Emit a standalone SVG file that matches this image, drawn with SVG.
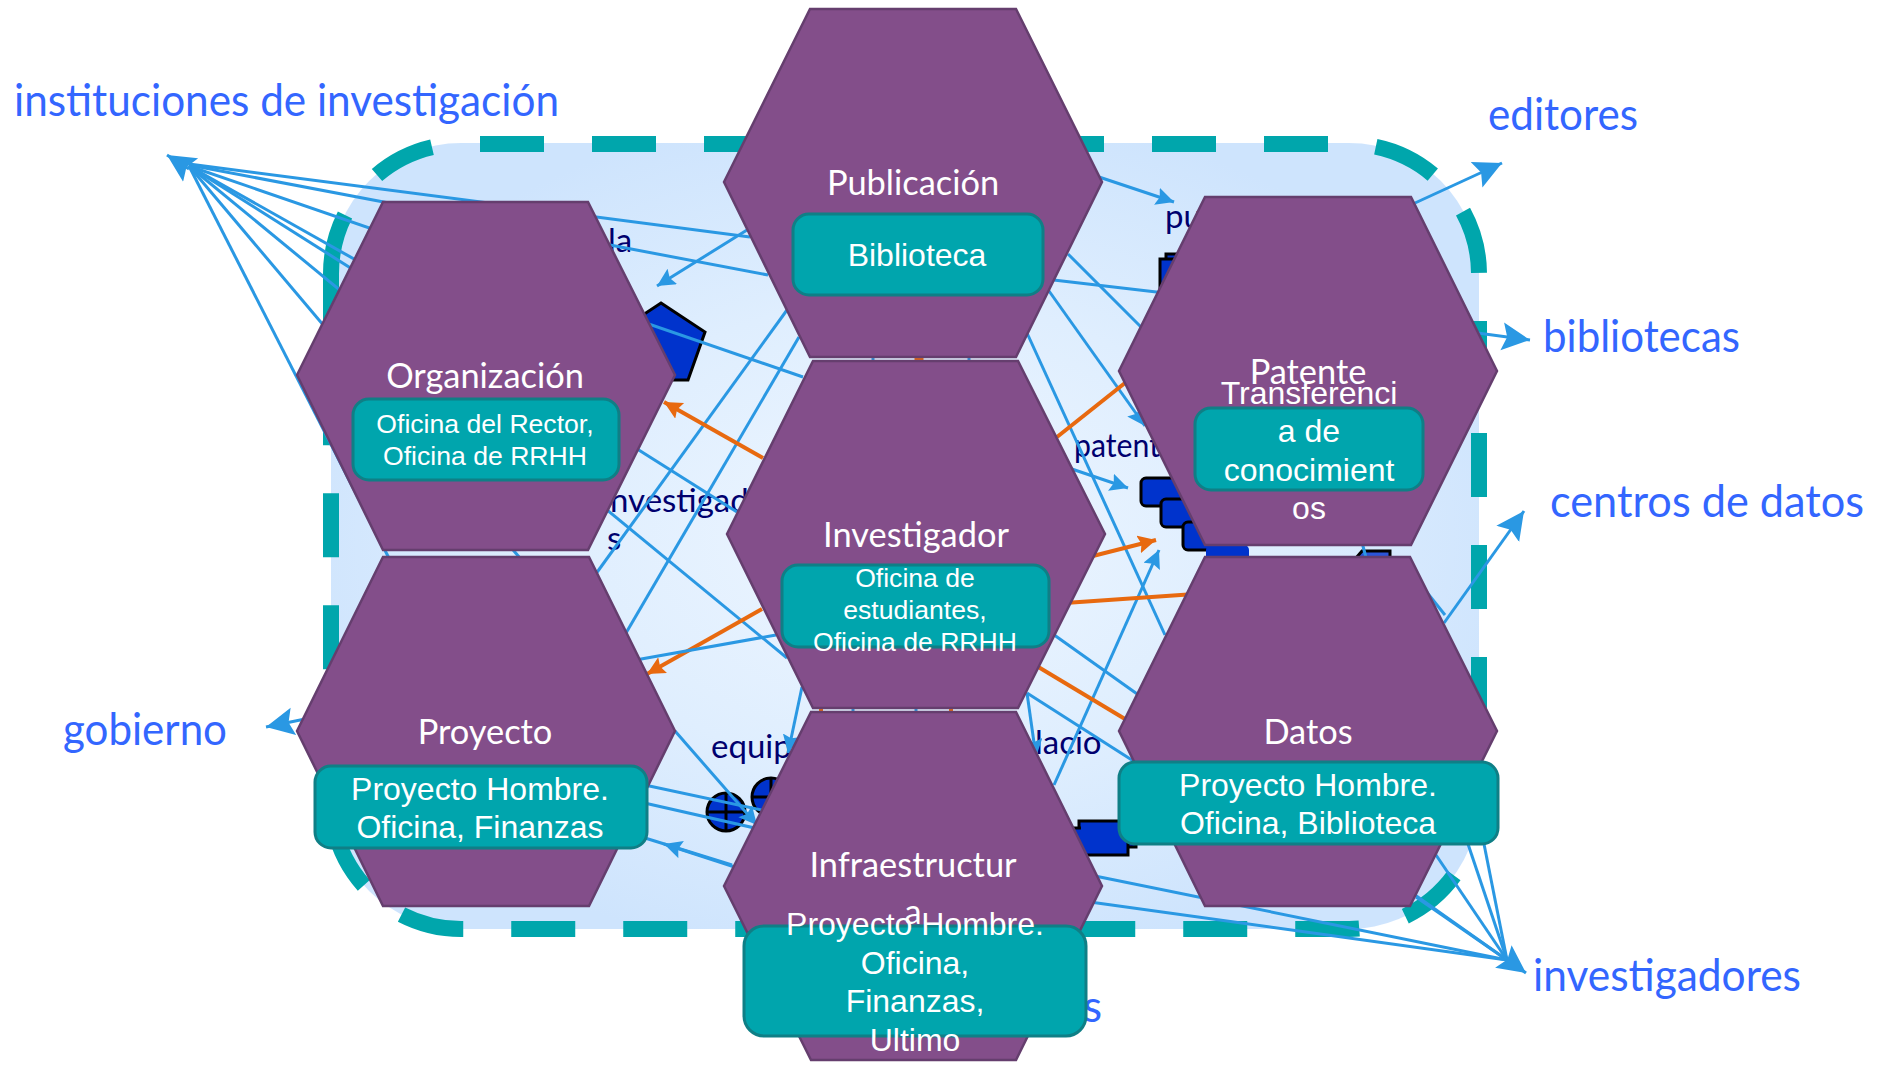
<svg xmlns="http://www.w3.org/2000/svg" width="1877" height="1068" viewBox="0 0 1877 1068">
<defs>
<radialGradient id="bg" cx="50%" cy="50%" r="55%">
<stop offset="0" stop-color="#eef6ff"/><stop offset="0.55" stop-color="#dfeefe"/><stop offset="1" stop-color="#cee4fd"/>
</radialGradient>
<marker id="hb" markerUnits="userSpaceOnUse" markerWidth="32" markerHeight="32" refX="28" refY="15" orient="auto"><path d="M0,1 L28,15 L0,29 L5,15 Z" fill="#2a98e3"/></marker>
<marker id="hs" markerUnits="userSpaceOnUse" markerWidth="20" markerHeight="20" refX="18" refY="9" orient="auto"><path d="M0,0 L18,9 L0,18 L3,9 Z" fill="#2a98e3"/></marker>
<marker id="ho" markerUnits="userSpaceOnUse" markerWidth="20" markerHeight="20" refX="18" refY="9" orient="auto"><path d="M0,0 L18,9 L0,18 L3,9 Z" fill="#e8690f"/></marker>
</defs>
<style>
.hex{fill:#834e8a;stroke:#653e6e;stroke-width:2.5}
.box{fill:#00a5ad;stroke:#0f7f86;stroke-width:3}
.t{font-family:"Lato","Liberation Sans",sans-serif;font-size:34.4px;fill:#fff;text-anchor:middle}
.b26{font-family:"Liberation Sans",Arial,sans-serif;font-size:26.6px;fill:#fff;text-anchor:middle}
.b30{font-family:"Liberation Sans",Arial,sans-serif;font-size:32px;fill:#fff;text-anchor:middle}
.out{font-family:"Lato","Liberation Sans",sans-serif;font-size:44px;fill:#3366ff}
.nv{font-family:"Lato","Liberation Sans",sans-serif;font-size:33px;fill:#00006e}
.sh{fill:#0033cc;stroke:#000;stroke-width:3}
.c{fill:none;stroke:#2a98e3;stroke-width:3}
.o{fill:none;stroke:#e8690f;stroke-width:4}
.cross{stroke:#000;stroke-width:3}
.dash{fill:none;stroke:#00a6ac;stroke-width:16}
</style>
<g id="contenedor">
<rect x="331" y="143" width="1148" height="786" rx="130" fill="url(#bg)"/>
<path class="dash" d="M461,144 H1349 A130,130 0 0 1 1479,274 V799 A130,130 0 0 1 1349,929 H461 A130,130 0 0 1 331,799 V274" stroke-dasharray="64 48" stroke-dashoffset="-19"/>
<path class="dash" d="M432,147.3 A130,130 0 0 0 377,175"/>
<path class="dash" d="M345,215 A130,130 0 0 0 331,274 V280"/>
</g>
<g id="etiquetas-externas">
<text class="out" x="14" y="116" textLength="545" lengthAdjust="spacingAndGlyphs">instituciones de investigación</text>
<text class="out" x="1488" y="130" textLength="150" lengthAdjust="spacingAndGlyphs">editores</text>
<text class="out" x="1543" y="352" textLength="197" lengthAdjust="spacingAndGlyphs">bibliotecas</text>
<text class="out" x="1550" y="517" textLength="314" lengthAdjust="spacingAndGlyphs">centros de datos</text>
<text class="out" x="63" y="745" textLength="164" lengthAdjust="spacingAndGlyphs">gobierno</text>
<text class="out" x="1533" y="991" textLength="268" lengthAdjust="spacingAndGlyphs">investigadores</text>
<text class="out" x="1083" y="1022">s</text>
</g>
<g id="etiquetas-internas">
<text class="nv" x="608" y="252">la</text>
<text class="nv" x="1165" y="228">pu</text>
<text class="nv" x="1074" y="457" textLength="86" lengthAdjust="spacingAndGlyphs">patent</text>
<text class="nv" x="601" y="512">Investigad</text>
<text class="nv" x="607" y="550">s</text>
<text class="nv" x="711" y="758">equip</text>
<text class="nv" x="1035" y="754">lacio</text>
</g>
<g id="iconos">
<polygon class="sh" points="661,303 705,332 688,380 634,380 617,332"/>
<rect class="sh" x="1166" y="254" width="70" height="40"/>
<rect class="sh" x="1160" y="259" width="70" height="40"/>
<rect class="sh" x="1141" y="478" width="90" height="28" rx="5"/>
<rect class="sh" x="1161" y="499" width="80" height="28" rx="5"/>
<rect class="sh" x="1183" y="522" width="62" height="28" rx="5"/>
<rect x="1206" y="545" width="43" height="30" rx="5" fill="#0033cc"/>
<polygon points="1350,565 1362,551 1390,551 1390,575 1350,575" fill="#2a55d8" stroke="#000" stroke-width="3"/>
<circle class="sh" cx="726" cy="812" r="19"/><path class="cross" d="M707,812 H745 M726,793 V831"/>
<circle class="sh" cx="771" cy="797" r="19"/><path class="cross" d="M752,797 H790 M771,778 V816"/>
<rect class="sh" x="1079" y="821" width="57" height="26"/>
<rect class="sh" x="1070" y="828" width="58" height="27"/>
<rect x="1081" y="823" width="45" height="30" fill="#0033cc"/>
</g>
<g id="conectores">
<path class="c" d="M189,164 L750,237"/>
<path class="c" d="M189,165 L768,275"/>
<path class="c" d="M189,166 L803,377"/>
<path class="c" d="M189,166 L480,330"/>
<path class="c" d="M189,166 L737,512"/>
<path class="c" d="M189,166 L787,658"/>
<path class="c" d="M189,166 L530,570"/>
<path class="c" d="M189,166 L395,570"/>
<path class="c" d="M189,169 L167,155" marker-end="url(#hb)"/>
<path class="c" d="M590,582 L787,310"/>
<path class="c" d="M626,633 L799,337"/>
<path class="c" d="M747,230 L657,286" marker-end="url(#hs)"/>
<path class="o" d="M763,458 L664,402" marker-end="url(#ho)"/>
<path class="o" d="M762,609 L647,674" marker-end="url(#ho)"/>
<path class="c" d="M630,661 L776,635"/>
<path class="c" d="M675,731 L757,825" marker-end="url(#hs)"/>
<path class="c" d="M640,784 L790,816"/>
<path class="c" d="M640,802 L790,836"/>
<path class="c" d="M750,872 L664,844" marker-end="url(#hs)"/>
<path class="c" d="M732,865 L645,838"/>
<path class="c" d="M802,687 L788,753" marker-end="url(#hs)"/>
<path class="c" d="M1090,174 L1174,202" marker-end="url(#hs)"/>
<path class="c" d="M1415,203 L1502,163" marker-end="url(#hb)"/>
<path class="c" d="M1470,332 L1530,340" marker-end="url(#hb)"/>
<path class="c" d="M1444,623 L1524,511" marker-end="url(#hb)"/>
<path class="c" d="M310,718 L266,727" marker-end="url(#hb)"/>
<path class="c" d="M1484,844 L1507,960"/>
<path class="c" d="M1468,844 L1507,960"/>
<path class="c" d="M1436,855 L1507,960"/>
<path class="c" d="M1415,895 L1507,960"/>
<path class="c" d="M1416,897 L1507,960"/>
<path class="c" d="M1095,876 L1507,960"/>
<path class="c" d="M1090,902 L1507,960"/>
<path class="c" d="M1504,957 L1526,973" marker-end="url(#hb)"/>
<path class="c" d="M1068,254 L1150,336"/>
<path class="c" d="M1045,279 L1165,293"/>
<path class="c" d="M1049,291 L1145,426" marker-end="url(#hs)"/>
<path class="c" d="M1027,333 L1165,635"/>
<path class="o" d="M1135,375 L1057,437"/>
<path class="c" d="M1060,465 L1128,488" marker-end="url(#hs)"/>
<path class="o" d="M1085,558 L1156,540" marker-end="url(#ho)"/>
<path class="c" d="M1054,785 L1159,550" marker-end="url(#hs)"/>
<path class="o" d="M1065,603 L1195,594"/>
<path class="c" d="M1050,632 L1140,696"/>
<path class="o" d="M1030,662 L1130,722"/>
<path class="c" d="M1027,693 L1135,762"/>
<path class="c" d="M1027,693 L1036,757" marker-end="url(#hs)"/>
<path class="c" d="M1360,535 L1368,565"/>
<path class="c" d="M1425,590 L1445,615"/>
<path class="c" d="M873,354 V363 M969,354 V363"/>
<path class="o" d="M919,354 V363" style="stroke-width:9"/>
<path class="o" d="M821,705 V715 M951,705 V715"/>
<path class="c" d="M853,705 V715 M916,705 V715"/>
</g>
<g id="publicacion">
<polygon class="hex" points="724,182 810,9 1016,9 1102,182 1016,357 810,357"/>
<rect class="box" x="793" y="214" width="250" height="81" rx="16"/>
<text class="t" x="913" y="195">Publicación</text>
<text class="b30" x="917" y="266">Biblioteca</text>
</g>
<g id="organizacion">
<polygon class="hex" points="297,375 383,202 588,202 675,375 588,550 383,550"/>
<rect class="box" x="353" y="399" width="266" height="81" rx="16"/>
<text class="t" x="485" y="388">Organización</text>
<text class="b26" x="485" y="433">Oficina del Rector,</text>
<text class="b26" x="485" y="465">Oficina de RRHH</text>
</g>
<g id="patente">
<polygon class="hex" points="1119,371 1205,197 1411,197 1497,371 1411,545 1205,545"/>
<rect class="box" x="1195" y="408" width="228" height="82" rx="16"/>
<text class="t" x="1308" y="384">Patente</text>
<text class="b30" x="1309" y="404">Transferenci</text>
<text class="b30" x="1309" y="442">a de</text>
<text class="b30" x="1309" y="481">conocimient</text>
<text class="b30" x="1309" y="519">os</text>
</g>
<g id="proyecto">
<polygon class="hex" points="297,731 383,557 589,557 675,731 589,906 383,906"/>
<rect class="box" x="315" y="766" width="332" height="82" rx="16"/>
<text class="t" x="485" y="744">Proyecto</text>
<text class="b30" x="480" y="800">Proyecto Hombre.</text>
<text class="b30" x="480" y="838">Oficina, Finanzas</text>
</g>
<g id="datos">
<polygon class="hex" points="1119,731 1205,557 1410,557 1497,731 1410,906 1205,906"/>
<rect class="box" x="1119" y="762" width="379" height="82" rx="16"/>
<text class="t" x="1308" y="744">Datos</text>
<text class="b30" x="1308" y="796">Proyecto Hombre.</text>
<text class="b30" x="1308" y="834">Oficina, Biblioteca</text>
</g>
<g id="investigador">
<polygon class="hex" points="727,534 813,361 1018,361 1105,534 1018,708 813,708"/>
<rect class="box" x="782" y="565" width="267" height="82" rx="16"/>
<text class="t" x="916" y="547">Investigador</text>
<text class="b26" x="915" y="587">Oficina de</text>
<text class="b26" x="915" y="619">estudiantes,</text>
<text class="b26" x="915" y="651">Oficina de RRHH</text>
</g>
<g id="infraestructura">
<polygon class="hex" points="724,886 811,712 1016,712 1102,886 1016,1060 811,1060"/>
<rect class="box" x="744" y="926" width="342" height="110" rx="20"/>
<text class="t" x="913" y="877">Infraestructur</text>
<text class="t" x="913" y="924">a</text>
<text class="b30" x="915" y="935">Proyecto Hombre.</text>
<text class="b30" x="915" y="974">Oficina,</text>
<text class="b30" x="915" y="1012">Finanzas,</text>
<text class="b30" x="915" y="1051">Ultimo</text>
</g>
</svg>
